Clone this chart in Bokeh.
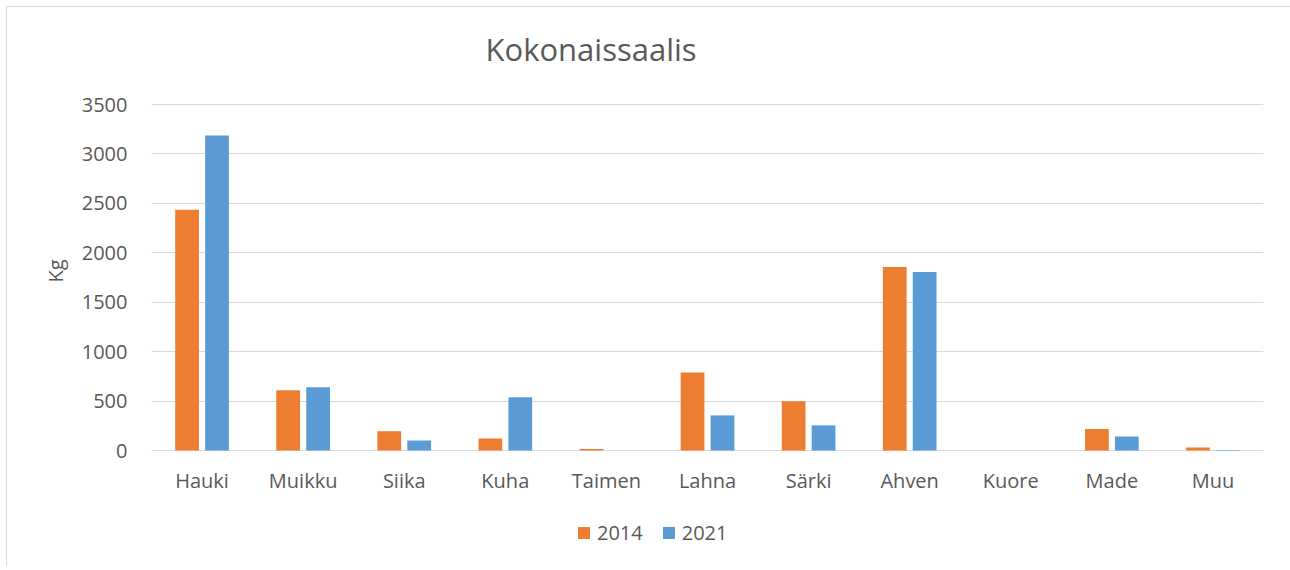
from bokeh.plotting import figure
from bokeh.models import (ColumnDataSource, Range1d, FactorRange, FixedTicker,
                          Legend, LegendItem, Title)
from bokeh.transform import dodge
from bokeh.embed import file_html
from bokeh.resources import INLINE

categories = ["Hauki", "Muikku", "Siika", "Kuha", "Taimen", "Lahna", "Särki",
              "Ahven", "Kuore", "Made", "Muu"]
values_2014 = [2435, 610, 195, 122, 15, 790, 497, 1857, 0, 218, 30]
values_2021 = [3186, 639, 101, 538, 0, 355, 254, 1806, 0, 142, 4]
series_names = ["2014", "2021"]
y_ticks = [0, 500, 1000, 1500, 2000, 2500, 3000, 3500]

FONT = "Open Sans"
TEXT = "#595959"
GRID = "#d9d9d9"
ORANGE = "#ED7D31"
BLUE = "#5B9BD5"

# layout (pixels, relative to the figure)
W, H = 1284, 560
B_LEFT, B_RIGHT, B_TOP, B_BOTTOM = 144, 28, 67, 10
Y_TOP_PX, Y_ZERO_PX = 97, 443          # where the 3500 and 0 gridlines sit
frame_bottom = H - B_BOTTOM
k = (Y_ZERO_PX - Y_TOP_PX) / y_ticks[-1]
y_start = -(frame_bottom - Y_ZERO_PX) / k
y_end = y_ticks[-1] + (Y_TOP_PX - B_TOP) / k

source = ColumnDataSource(dict(cat=categories, v2014=values_2014, v2021=values_2021))

p = figure(width=W, height=H, output_backend="svg", toolbar_location=None,
           x_range=FactorRange(*categories), y_range=Range1d(y_start, y_end),
           min_border_left=B_LEFT, min_border_right=B_RIGHT, min_border_top=B_TOP,
           min_border_bottom=B_BOTTOM)
p.styles = {"border-top": "1px solid #d9d9d9", "border-left": "1px solid #d9d9d9",
            "margin-left": "6px", "margin-top": "6px"}

r1 = p.vbar(x=dodge("cat", -0.148, range=p.x_range), top="v2014", width=0.235,
            source=source, fill_color=ORANGE, line_color=None)
r2 = p.vbar(x=dodge("cat", 0.148, range=p.x_range), top="v2021", width=0.235,
            source=source, fill_color=BLUE, line_color=None)

p.outline_line_color = None
p.xgrid.grid_line_color = None
ticker = FixedTicker(ticks=y_ticks)
p.yaxis.ticker = ticker
p.ygrid.ticker = ticker
p.ygrid.grid_line_color = GRID
p.ygrid.grid_line_width = 1

for ax in (p.xaxis, p.yaxis):
    ax.axis_line_color = None
    ax.major_tick_line_color = None
    ax.minor_tick_line_color = None
    ax.major_label_text_font = FONT
    ax.major_label_text_font_size = "20px"
    ax.major_label_text_color = TEXT
p.xaxis.fixed_location = 0
p.xaxis.major_label_standoff = 10
p.yaxis.major_label_standoff = 18

kg = Title(text="Kg", text_font=FONT, text_font_size="20px", text_font_style="normal",
           text_color=TEXT, align="right", offset=185, standoff=20)
p.add_layout(kg, "left")

p.title.text = "Kokonaissaalis"
p.title.text_font = FONT
p.title.text_font_size = "31px"
p.title.text_font_style = "normal"
p.title.text_color = TEXT
p.title.align = "left"
p.title.offset = 334
p.title.standoff = 10

legend = Legend(items=[LegendItem(label=series_names[0], renderers=[r1]),
                       LegendItem(label=series_names[1], renderers=[r2])],
                orientation="horizontal", location=(425, 11),
                glyph_width=15, glyph_height=15, label_standoff=6, spacing=18,
                padding=0, margin=0, border_line_color=None,
                background_fill_alpha=0,
                label_text_font=FONT, label_text_font_size="20px",
                label_text_color=TEXT)
p.add_layout(legend, "center")

open("out.html", "w").write(file_html(p, INLINE))
